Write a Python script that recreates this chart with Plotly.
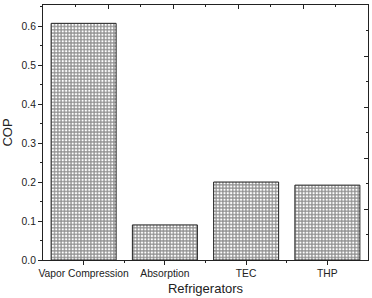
import plotly.graph_objects as go

categories = ["Vapor Compression", "Absorption", "TEC", "THP"]
cop_values = [0.607, 0.090, 0.200, 0.192]
y_tick_vals = [0.0, 0.1, 0.2, 0.3, 0.4, 0.5, 0.6]
y_tick_text = ["0.0", "0.1", "0.2", "0.3", "0.4", "0.5", "0.6"]

ink = "#222222"
font = dict(family="Liberation Sans, Arial, sans-serif", size=10.3, color=ink)

fig = go.Figure()
fig.add_trace(go.Bar(
    x=list(range(len(categories))), y=cop_values, width=0.8,
    marker=dict(color="white", line=dict(color=ink, width=1),
                pattern=dict(shape="+", size=3.3, solidity=0.6,
                             fgcolor="#1a1a1a", bgcolor="white", fillmode="overlay")),
    showlegend=False,
))
# invisible trace to activate secondary axes
fig.add_trace(go.Scatter(x=[0], y=[0], xaxis="x2", yaxis="y2", mode="markers",
                         marker=dict(opacity=0), showlegend=False, hoverinfo="skip"))

fig.update_layout(
    width=372, height=298,
    margin=dict(l=43, r=4, t=5, b=38),
    paper_bgcolor="white", plot_bgcolor="white",
    font=font,
    xaxis=dict(
        range=[-0.5, 3.5], tickmode="array", tickvals=list(range(len(categories))),
        ticktext=categories, ticks="outside", ticklen=4, tickcolor=ink, tickwidth=1,
        minor=dict(tickmode="array", tickvals=[0.5, 1.5, 2.5], ticks="outside", ticklen=2, tickcolor=ink),
        showline=True, linecolor=ink, linewidth=1, showgrid=False, zeroline=False,
        title=dict(text="Refrigerators", font=dict(size=13, color=ink), standoff=5),
    ),
    yaxis=dict(
        range=[0, 0.654], tickmode="array", tickvals=y_tick_vals, ticktext=y_tick_text,
        ticks="outside", ticklen=4, tickcolor=ink, tickwidth=1,
        minor=dict(dtick=0.05, tick0=0, ticks="outside", ticklen=2, tickcolor=ink),
        showline=True, linecolor=ink, linewidth=1, showgrid=False, zeroline=False,
        title=dict(text="COP", font=dict(size=13, color=ink), standoff=9),
    ),
    xaxis2=dict(
        overlaying="x", side="top", range=[0, 5], dtick=1, tick0=0,
        ticks="inside", ticklen=4, tickcolor=ink, showticklabels=False,
        minor=dict(dtick=0.5, ticks="inside", ticklen=2, tickcolor=ink),
        showline=True, linecolor=ink, linewidth=1, showgrid=False, zeroline=False,
    ),
    yaxis2=dict(
        overlaying="y", side="right", range=[0, 5], dtick=1, tick0=0,
        ticks="inside", ticklen=4, tickcolor=ink, showticklabels=False,
        minor=dict(dtick=0.5, ticks="inside", ticklen=2, tickcolor=ink),
        showline=True, linecolor=ink, linewidth=1, showgrid=False, zeroline=False,
    ),
)

fig.write_html("out.html")
